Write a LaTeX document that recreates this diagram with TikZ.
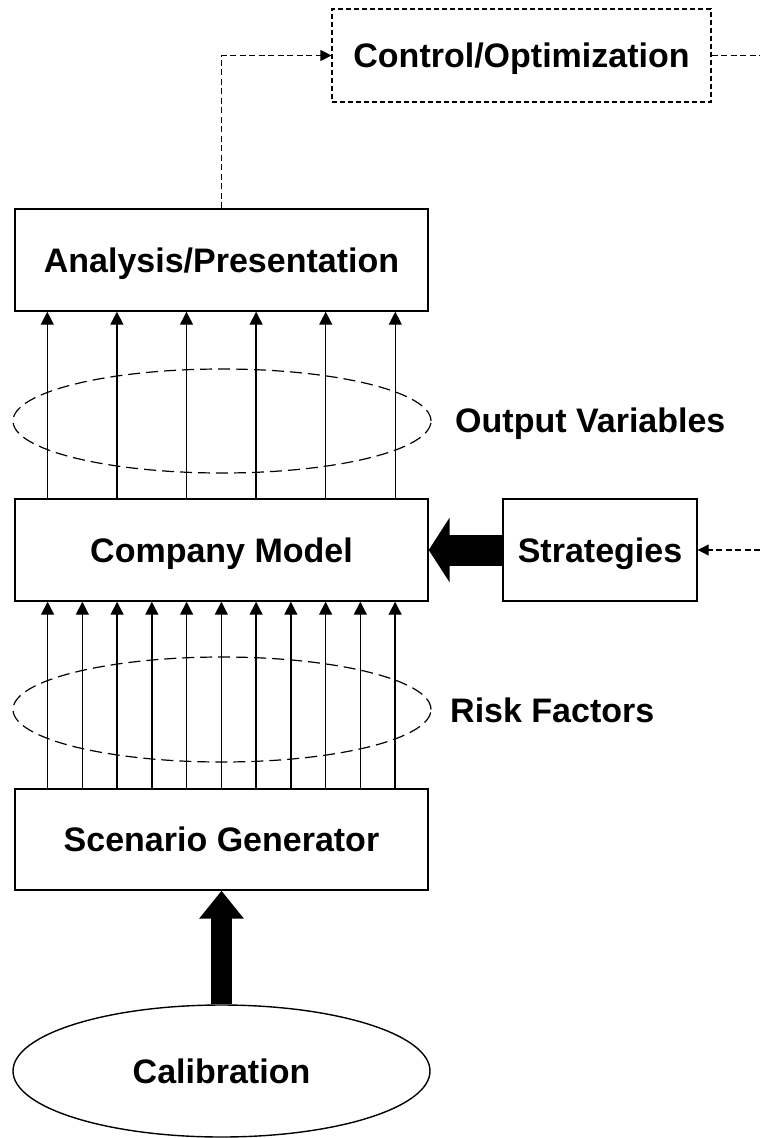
\documentclass[tikz,border=0pt]{standalone}
\usepackage{fontspec}
\setmainfont{Liberation Sans}
\usetikzlibrary{arrows.meta,shapes.geometric,calc}
\begin{document}
\begin{tikzpicture}[x=1pt,y=-1pt,
  every node/.style={font=\fontsize{34}{40}\selectfont\bfseries, inner sep=0pt, text height=24.3pt, text depth=0pt},
  box/.style={draw, line width=1.4pt, rectangle, minimum width=413pt, minimum height=102pt},
  dbox/.style={draw, line width=1.1pt, rectangle, dash pattern=on 5pt off 3pt},
  oval/.style={draw, line width=1.2pt, ellipse, dash pattern=on 12pt off 6pt},
  fa/.style={line width=1.3pt, -{Triangle[length=13pt,width=13pt]}},
  fb/.style={line width=1.1pt, dash pattern=on 6pt off 3.5pt},
  fbarrow/.style={fb, -{Triangle[length=11pt,width=11pt]}}]
\useasboundingbox (0,0) rectangle (760,1138);
\node[dbox, minimum width=379pt, minimum height=93pt] (ctrl) at (521.5,55.5) {Control/Optimization};
\node[box] (ana) at (221.5,260) {Analysis/Presentation};
\node[box] (com) at (221.5,550) {Company Model};
\node[box, minimum width=194pt] (str) at (600,550) {Strategies};
\node[box, minimum height=101pt] (sg) at (221.5,839.5) {Scenario Generator};
\node[draw, line width=1.4pt, ellipse, minimum width=417pt, minimum height=132pt] (cal) at (221.5,1071) {Calibration};
\node[oval, minimum width=418pt, minimum height=104pt] (ove) at (222,421) {};
\node[oval, minimum width=418pt, minimum height=105pt] (rfe) at (222,709.5) {};
\node[anchor=west] (ovl) at (455,420) {Output Variables};
\node[anchor=west] (rfl) at (450,710) {Risk Factors};
\coordinate (re1) at (760,55.5);
\coordinate (re2) at (760,550);
% output variable arrows
\foreach \j in {0,...,5}{
  \pgfmathsetmacro\dx{33+69.6*\j}
  \draw[fa] ([xshift=\dx pt]com.north west) -- ([xshift=\dx pt]ana.south west);
}
% risk factor arrows
\foreach \k in {1,...,11}{
  \pgfmathsetmacro\dx{33.3+34.75*(\k-1)}
  \draw[fa] ([xshift=\dx pt]sg.north west) -- ([xshift=\dx pt]com.south west);
}
% thick arrows
\draw[line width=31pt, -{Triangle[length=21pt,width=64pt]}] (str.west) -- (com.east);
\draw[line width=21pt, -{Triangle[length=28pt,width=43pt]}] (cal.north) -- (sg.south);
% feedback
\draw[fbarrow] (ana.north) |- (ctrl.west);
\draw[fb] (ctrl.east) -- (re1);
\draw[fbarrow] (re2) -- (str.east);
\end{tikzpicture}
\end{document}
